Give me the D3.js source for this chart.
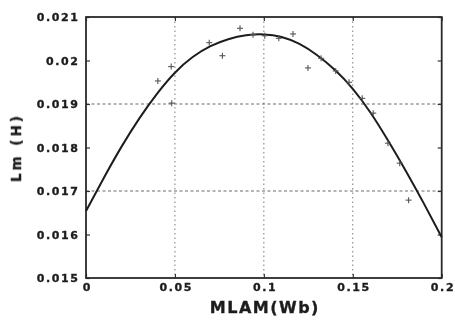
<!DOCTYPE html>
<html>
<head>
<meta charset="utf-8">
<script src="https://cdn.jsdelivr.net/npm/d3@7"></script>
<style>
  html, body { margin: 0; padding: 0; background: #fff; }
  svg { display: block; }
  text { font-family: "DejaVu Sans", sans-serif; font-weight: bold; fill: #1e1e1e; stroke: #1e1e1e; stroke-width: 0.35px; }
</style>
</head>
<body>
<svg id="chart" width="455" height="322"></svg>
<script>
// Measured samples: magnetizing inductance versus flux linkage
const measuredFlux = [0.0404, 0.0479, 0.0482, 0.0693, 0.0767, 0.0866, 0.0939, 0.1005, 0.1084,
                      0.1164, 0.1248, 0.1322, 0.1404, 0.1479, 0.1553, 0.1615, 0.1698, 0.1764, 0.1814];
const measuredLm   = [0.01953, 0.01986, 0.01902, 0.02041, 0.02011, 0.02074, 0.02059, 0.02057, 0.02051,
                      0.02061, 0.01983, 0.02005, 0.01976, 0.01950, 0.01913, 0.01879, 0.01810, 0.01764, 0.01679];

// Fitted curve, sampled every 0.01 Wb
const fitFlux = [0, 0.01, 0.02, 0.03, 0.04, 0.05, 0.06, 0.07, 0.08, 0.09, 0.10,
                 0.11, 0.12, 0.13, 0.14, 0.15, 0.16, 0.17, 0.18, 0.19, 0.20];
const fitLm   = [0.01654, 0.01730, 0.01802, 0.01867, 0.01924, 0.01972, 0.02008, 0.02033, 0.02049, 0.02058, 0.02060,
                 0.02054, 0.02038, 0.02012, 0.01978, 0.01935, 0.01880, 0.01815, 0.01745, 0.01671, 0.01594];

// Axis ticks and grid
const xTicks = [0, 0.05, 0.1, 0.15, 0.2];
const xTickLabels = ["0", "0.05", "0.1", "0.15", "0.2"];
const yTicks = [0.015, 0.016, 0.017, 0.018, 0.019, 0.020, 0.021];
const yTickLabels = ["0.015", "0.016", "0.017", "0.018", "0.019", "0.02", "0.021"];
const xGrid = [0.05, 0.1, 0.15];
const yGrid = [0.017, 0.019];

const svg = d3.select("#chart");
const plotLeft = 86, plotRight = 441.7, plotTop = 17, plotBottom = 278;

const x = d3.scaleLinear().domain([0, 0.2]).range([plotLeft, plotRight]);
const y = d3.scaleLinear().domain([0.015, 0.021]).range([plotBottom, plotTop]);

const defs = svg.append("defs");
defs.append("filter").attr("id", "soft")
  .append("feGaussianBlur").attr("stdDeviation", 0.45);

svg.append("rect").attr("width", 455).attr("height", 322).attr("fill", "#fff");

// grid lines
const grid = svg.append("g");
grid.selectAll("line.vx").data(xGrid).join("line")
  .attr("x1", d => x(d)).attr("x2", d => x(d))
  .attr("y1", plotTop).attr("y2", plotBottom)
  .attr("stroke", "#7a7a7a").attr("stroke-width", 1)
  .attr("stroke-dasharray", "1.5,3");
grid.selectAll("line.hy").data(yGrid).join("line")
  .attr("x1", plotLeft).attr("x2", plotRight)
  .attr("y1", d => y(d)).attr("y2", d => y(d))
  .attr("stroke", "#6a6a6a").attr("stroke-width", 1)
  .attr("stroke-dasharray", "3,2.5");

// axes with inward ticks on all four sides
const axisStyle = g => {
  g.select(".domain").remove();
  g.selectAll(".tick line").attr("stroke", "#333").attr("stroke-width", 1.2);
};
svg.append("g").attr("transform", `translate(0,${plotBottom})`)
  .call(d3.axisBottom(x).tickValues(xTicks).tickSize(-4).tickFormat((d, i) => xTickLabels[i]).tickPadding(7))
  .call(axisStyle)
  .call(g => g.selectAll("text").attr("font-size", 11).attr("letter-spacing", 1.6)
    .attr("dx", 0.8).attr("dy", "0.55em").attr("fill", "#1e1e1e").attr("filter", "url(#soft)"));
svg.append("g").attr("transform", `translate(0,${plotTop})`)
  .call(d3.axisTop(x).tickValues(xTicks).tickSize(-4).tickFormat(""))
  .call(axisStyle);
svg.append("g").attr("transform", `translate(${plotLeft},0)`)
  .call(d3.axisLeft(y).tickValues(yTicks).tickSize(-4).tickFormat((d, i) => yTickLabels[i]).tickPadding(8))
  .call(axisStyle)
  .call(g => g.selectAll("text").attr("font-size", 11).attr("letter-spacing", 1.6)
    .attr("dx", 1.6).attr("fill", "#1e1e1e").attr("filter", "url(#soft)"));
svg.append("g").attr("transform", `translate(${plotRight},0)`)
  .call(d3.axisRight(y).tickValues(yTicks).tickSize(-4).tickFormat(""))
  .call(axisStyle);

// frame
svg.append("rect")
  .attr("x", plotLeft).attr("y", plotTop)
  .attr("width", plotRight - plotLeft).attr("height", plotBottom - plotTop)
  .attr("fill", "none").attr("stroke", "#2a2a2a").attr("stroke-width", 1.8);

// fitted curve
const line = d3.line()
  .x((d, i) => x(fitFlux[i]))
  .y(d => y(d))
  .curve(d3.curveNatural);
svg.append("path")
  .datum(fitLm)
  .attr("d", line)
  .attr("fill", "none").attr("stroke", "#1e1e1e").attr("stroke-width", 2)
  .attr("filter", "url(#soft)");

// measured points as plus markers
const pts = svg.append("g").attr("stroke", "#555").attr("stroke-width", 1.1);
measuredFlux.forEach((fx, i) => {
  const cx = x(fx), cy = y(measuredLm[i]);
  pts.append("line").attr("x1", cx - 3).attr("x2", cx + 3).attr("y1", cy).attr("y2", cy);
  pts.append("line").attr("x1", cx).attr("x2", cx).attr("y1", cy - 3).attr("y2", cy + 3);
});

// axis titles
svg.append("text")
  .attr("x", (plotLeft + plotRight) / 2 + 1).attr("y", 313)
  .attr("text-anchor", "middle")
  .attr("font-size", 16).attr("letter-spacing", 1.5)
  .attr("filter", "url(#soft)")
  .text("MLAM(Wb)");
svg.append("text")
  .attr("transform", `translate(21,${(plotTop + plotBottom) / 2}) rotate(-90)`)
  .attr("text-anchor", "middle")
  .attr("font-size", 13.5).attr("letter-spacing", 3)
  .attr("filter", "url(#soft)")
  .text("Lm (H)");
</script>
</body>
</html>
